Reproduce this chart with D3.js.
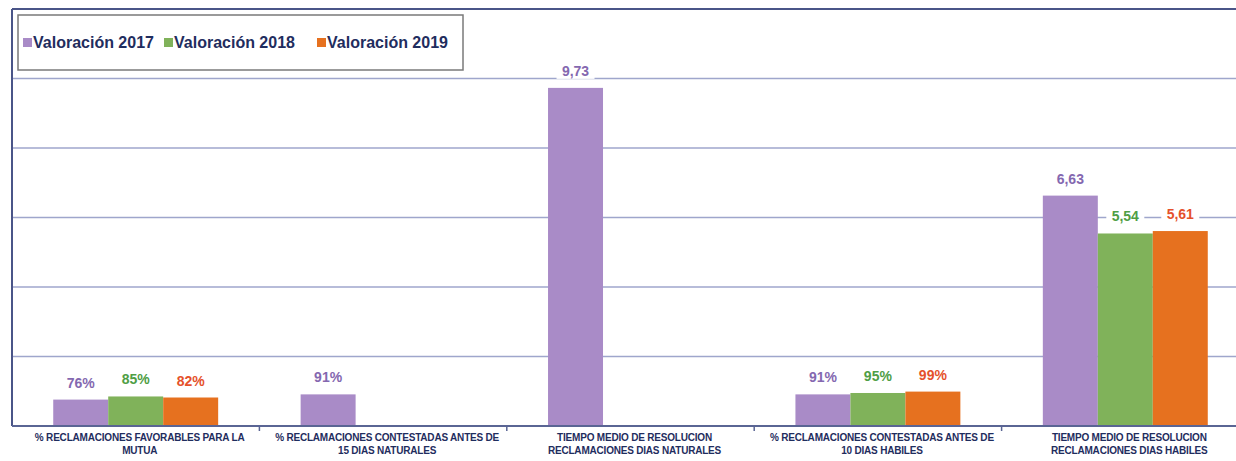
<!DOCTYPE html>
<html>
<head>
<meta charset="utf-8">
<script src="https://cdn.jsdelivr.net/npm/d3@7"></script>
<style>
  body { margin: 0; background: #fff; }
  svg { display: block; font-family: "Liberation Sans", Arial, sans-serif; }
</style>
</head>
<body>
<div id="chart"></div>
<script>
// chart size
const width = 1236
const height = 461

// data
const categories = [
	['% RECLAMACIONES FAVORABLES PARA LA', 'MUTUA'],
	['% RECLAMACIONES CONTESTADAS ANTES DE', '15 DIAS NATURALES'],
	['TIEMPO MEDIO DE RESOLUCION', 'RECLAMACIONES DIAS NATURALES'],
	['% RECLAMACIONES CONTESTADAS ANTES DE', '10 DIAS HABILES'],
	['TIEMPO MEDIO DE RESOLUCION', 'RECLAMACIONES DIAS HABILES']
];
const isPercent = [true, true, false, true, false];
const seriesNames = ['Valoración 2017', 'Valoración 2018', 'Valoración 2019'];
const val2017 = [0.76, 0.91, 9.73, 0.91, 6.63];
const val2018 = [0.85, null, null, 0.95, 5.54];
const val2019 = [0.82, null, null, 0.99, 5.61];
const yTicks = [0, 2, 4, 6, 8, 10, 12];

const barColors = ['#a98bc7', '#80b25a', '#e6711f'];
const labelColors = ['#8468b0', '#4f9e45', '#e5512b'];

// plot box: it runs a little past the right edge of the picture
const plotLeft = 12, plotRight = 1249, plotTop = 9, plotBottom = 426;

const svg = d3.select('#chart').append('svg')
	.attr('width', width)
	.attr('height', height);

const x = d3.scaleBand()
	.domain(d3.range(categories.length))
	.range([plotLeft, plotRight]);

const xInner = d3.scaleBand()
	.domain(d3.range(seriesNames.length))
	.range([0, x.bandwidth()])
	.paddingOuter(0.75);

const y = d3.scaleLinear()
	.domain([0, 12])
	.range([plotBottom, plotTop]);

// gridlines
svg.append('g').attr('id', 'grid')
	.selectAll('line').data(yTicks.filter(d => d > 0 && d < 12)).enter()
	.append('line')
	.attr('x1', plotLeft).attr('x2', width)
	.attr('y1', d => y(d)).attr('y2', d => y(d))
	.attr('stroke', '#9fa6cc')
	.attr('stroke-width', 1.5);

// top frame line
svg.append('line')
	.attr('x1', plotLeft).attr('x2', width)
	.attr('y1', y(12)).attr('y2', y(12))
	.attr('stroke', '#4a5588')
	.attr('stroke-width', 2);

// bars
const rows = categories.map((c, i) => [val2017[i], val2018[i], val2019[i]]);

const groups = svg.append('g').attr('id', 'bars')
	.selectAll('g').data(rows).enter()
	.append('g')
	.attr('transform', (d, i) => 'translate(' + x(i) + ',0)');

function entries(d, i) {
	return d.map((v, s) => ({ v: v, s: s, cat: i })).filter(e => e.v != null);
}

groups.selectAll('rect')
	.data(entries)
	.enter().append('rect')
	.attr('x', d => xInner(d.s))
	.attr('width', xInner.bandwidth())
	.attr('y', d => y(d.v))
	.attr('height', d => y(0) - y(d.v))
	.attr('fill', d => barColors[d.s]);

// value labels, with a white patch so they break the gridlines
function fmt(d) {
	if (isPercent[d.cat]) return Math.round(d.v * 100) + '%';
	return d3.format('.2f')(d.v).replace('.', ',');
}

const labels = groups.selectAll('g.lbl')
	.data(entries)
	.enter().append('g').attr('class', 'lbl');

labels.append('rect')
	.attr('x', d => xInner(d.s) + xInner.bandwidth() / 2 - 19)
	.attr('y', d => y(d.v) - 27)
	.attr('width', 38)
	.attr('height', 18)
	.attr('fill', '#fff');

labels.append('text')
	.attr('x', d => xInner(d.s) + xInner.bandwidth() / 2)
	.attr('y', d => y(d.v) - 12)
	.attr('text-anchor', 'middle')
	.attr('font-size', 14)
	.attr('font-weight', 'bold')
	.attr('fill', d => labelColors[d.s])
	.text(fmt);

// axis lines
svg.append('line')
	.attr('x1', plotLeft).attr('x2', plotLeft)
	.attr('y1', plotTop).attr('y2', plotBottom)
	.attr('stroke', '#4a5588')
	.attr('stroke-width', 2);

svg.append('line')
	.attr('x1', plotLeft).attr('x2', width)
	.attr('y1', plotBottom).attr('y2', plotBottom)
	.attr('stroke', '#5a6594')
	.attr('stroke-width', 2);

// tick marks between categories
svg.append('g').selectAll('line')
	.data(d3.range(1, categories.length)).enter()
	.append('line')
	.attr('x1', d => x(d)).attr('x2', d => x(d))
	.attr('y1', plotBottom).attr('y2', plotBottom + 5)
	.attr('stroke', '#5a6594')
	.attr('stroke-width', 1.5);

// category labels
const catText = svg.append('g').attr('id', 'categories')
	.selectAll('text').data(categories).enter()
	.append('text')
	.attr('text-anchor', 'middle')
	.attr('font-size', 10)
	.attr('font-weight', 'bold')
	.attr('fill', '#1f2d5e')
	.attr('letter-spacing', -0.2);

catText.each(function(lines, i) {
	d3.select(this).selectAll('tspan')
		.data(lines).enter()
		.append('tspan')
		.attr('x', x(i) + x.bandwidth() / 2 + 4)
		.attr('y', (d, j) => 441 + j * 13)
		.text(d => d);
});

// legend
const legend = svg.append('g').attr('id', 'legend');
legend.append('rect')
	.attr('x', 18).attr('y', 15)
	.attr('width', 445).attr('height', 55)
	.attr('fill', '#fff')
	.attr('stroke', '#7a7a7a')
	.attr('stroke-width', 1.5);

const legendX = [23, 164, 317];
const items = legend.selectAll('g.item').data(seriesNames).enter()
	.append('g').attr('class', 'item')
	.attr('transform', (d, i) => 'translate(' + legendX[i] + ',0)');

items.append('rect')
	.attr('x', 0).attr('y', 38)
	.attr('width', 9).attr('height', 9)
	.attr('fill', (d, i) => barColors[i]);

items.append('text')
	.attr('x', 10).attr('y', 48)
	.attr('font-size', 16)
	.attr('font-weight', 'bold')
	.attr('fill', '#1f2d5e')
	.text(d => d);
</script>
</body>
</html>
